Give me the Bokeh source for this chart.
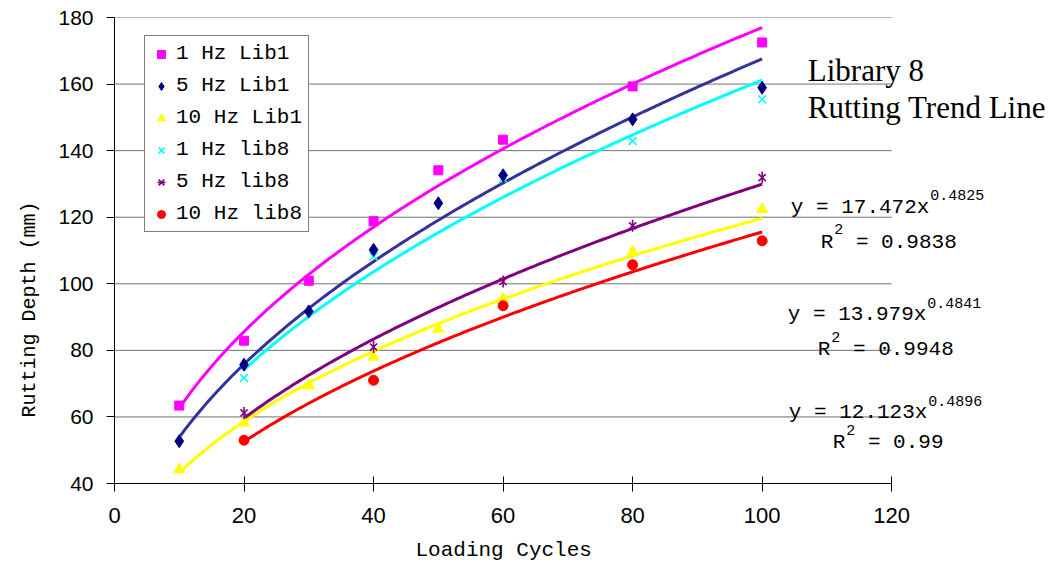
import numpy as np
from bokeh.plotting import figure
from bokeh.models import Range1d, Label, Legend, LegendItem, FixedTicker, Title
from bokeh.embed import file_html
from bokeh.resources import INLINE

# ---------------- data ----------------
x_lib1 = [10, 20, 30, 40, 50, 60, 80, 100]
x_lib8 = [20, 40, 60, 80, 100]
hz1_lib1 = [63.4, 82.9, 100.9, 118.8, 134.1, 143.3, 159.3, 172.5]
hz5_lib1 = [52.7, 75.7, 91.7, 110.2, 124.2, 132.6, 149.4, 158.9]
hz10_lib1 = [44.2, 58.2, 69.4, 78.0, 86.4, 95.5, 109.7, 122.4]
hz1_lib8 = [71.7, 108.2, 131.6, 142.9, 155.4]
hz5_lib8 = [61.2, 81.0, 100.7, 117.4, 131.9]
hz10_lib8 = [53.0, 71.0, 93.4, 105.7, 112.9]

lib8_coef = [17.472, 13.979, 12.123]
lib8_exp = [0.4825, 0.4841, 0.4896]
lib8_r2 = ["0.9838", "0.9948", "0.99"]

x_ticks = [0, 20, 40, 60, 80, 100, 120]
y_ticks = [40, 60, 80, 100, 120, 140, 160, 180]

# ---------------- figure ----------------
FL, AX_R, FT, FB = 113, 891, 17, 484
W, H = 1064, 573
XS = (AX_R - FL) / 120.0          # px per x unit on the axis
YS = (FB - FT) / 140.0
x_end = (W - FL) / XS              # frame extends to the right edge (room for notes)

p = figure(width=W, height=H, x_range=Range1d(0, x_end), y_range=Range1d(40, 180),
           output_backend="svg", toolbar_location=None,
           min_border_left=FL, min_border_right=0, min_border_top=FT,
           min_border_bottom=H - FB)
p.outline_line_color = None
p.background_fill_color = "white"
p.border_fill_color = "white"
p.xgrid.visible = False
p.ygrid.visible = False

p.xaxis.ticker = FixedTicker(ticks=x_ticks)
p.yaxis.ticker = FixedTicker(ticks=y_ticks)
p.xaxis.bounds = (x_ticks[0], x_ticks[-1])
for ax in (p.xaxis, p.yaxis):
    ax.axis_line_color = "black"
    ax.major_tick_line_color = "black"
    ax.minor_tick_line_color = None
    ax.major_label_text_color = "black"
p.yaxis.major_tick_in = 0
p.yaxis.major_tick_out = 8
p.yaxis.major_label_standoff = 13
p.yaxis.major_label_text_font = "Liberation Sans"
p.yaxis.major_label_text_font_size = "21px"
p.xaxis.major_tick_in = 7
p.xaxis.major_tick_out = 8
p.xaxis.major_label_standoff = 16
p.xaxis.major_label_text_font = "Liberation Sans"
p.xaxis.major_label_text_font_size = "22px"

# axis titles (side titles, shifted along the axis like the original)
p.add_layout(Title(text="Loading Cycles", align="left", offset=414 - FL,
                   standoff=23, text_font="Liberation Mono", text_font_size="21px",
                   text_font_style="normal", text_color="black"), "below")
p.add_layout(Title(text="Rutting Depth (mm)", align="left", offset=FB - 418,
                   standoff=30, text_font="Liberation Mono", text_font_size="20px",
                   text_font_style="normal", text_color="black"), "left")

# horizontal grid lines limited to the axis extent
p.segment(x0=x_ticks[0], x1=x_ticks[-1], y0=y_ticks[1:], y1=y_ticks[1:],
          line_color="#707070", line_width=1)


def fit(xs, ys):
    b, lna = np.polyfit(np.log(xs), np.log(ys), 1)
    return np.exp(lna), b


def curve(a, b, x0, x1=100):
    xx = np.linspace(x0, x1, 200)
    return xx, a * xx ** b


# trend lines
for ys, col in [(hz1_lib1, "#FF00FF"), (hz5_lib1, "#333399"), (hz10_lib1, "#FFFF00")]:
    a, b = fit(x_lib1, ys)
    xx, yy = curve(a, b, x_lib1[0])
    p.line(xx, yy, line_color=col, line_width=3)
for a, b, col in zip(lib8_coef, lib8_exp, ["#00FFFF", "#800080", "#FF0000"]):
    xx, yy = curve(a, b, x_lib8[0])
    p.line(xx, yy, line_color=col, line_width=3)

# markers
r_m1 = p.scatter(x_lib1, hz1_lib1, marker="square", size=9, color="#FF00FF")
r_c1 = p.scatter(x_lib8, hz1_lib8, marker="x", size=11, line_color="#00FFFF", line_width=1.6)
r_m5 = p.scatter(x_lib1, hz5_lib1, marker="diamond", size=13, color="#000080")
r_m10 = p.scatter(x_lib1, hz10_lib1, marker="triangle", size=11, color="#FFFF00")
r_p5a = p.scatter(x_lib8, hz5_lib8, marker="x", size=10, line_color="#800080", line_width=1.6)
r_p5b = p.scatter(x_lib8, hz5_lib8, marker="dash", angle=np.pi / 2, size=12,
                  line_color="#800080", line_width=1.6)
r_r10 = p.scatter(x_lib8, hz10_lib8, marker="circle", size=10, color="#FF0000")

legend = Legend(items=[
    LegendItem(label="1 Hz Lib1", renderers=[r_m1]),
    LegendItem(label="5 Hz Lib1", renderers=[r_m5]),
    LegendItem(label="10 Hz Lib1", renderers=[r_m10]),
    LegendItem(label="1 Hz lib8", renderers=[r_c1]),
    LegendItem(label="5 Hz lib8", renderers=[r_p5a, r_p5b]),
    LegendItem(label="10 Hz lib8", renderers=[r_r10]),
], location=(143 - FL, FB - 233))
legend.margin = 0
legend.padding = 6
legend.spacing = 9
legend.label_height = 20
legend.glyph_height = 20
legend.glyph_width = 20
legend.label_standoff = 5
legend.label_text_font = "Liberation Mono"
legend.label_text_font_size = "21px"
legend.label_text_color = "black"
legend.border_line_color = "black"
legend.border_line_width = 1
legend.background_fill_color = "white"
legend.background_fill_alpha = 1
p.add_layout(legend)

# ---------------- texts ----------------


def dx(px):
    return (px - FL) / XS


def dy(py):
    return 40 + (FB - py) / YS


def lab(text, px, py, font, size, align="left", baseline="alphabetic"):
    p.add_layout(Label(x=dx(px), y=dy(py), text=text, text_font=font,
                       text_font_size=size, text_align=align, text_baseline=baseline,
                       text_color="black"))


MONO = "Liberation Mono"
lab("Library 8", 807, 70, "Liberation Serif", "31px")
lab("Rutting Trend Line", 807, 107, "Liberation Serif", "31px")

CW = 0.6 * 21
eq_pos = [(790, 207, 820, 242), (787, 315, 817, 350), (788, 413, 832, 443)]
for (x0, base, rx, rbase), a, b, r2 in zip(eq_pos, lib8_coef, lib8_exp, lib8_r2):
    main = "y = %.3fx" % a
    lab(main, x0, base, MONO, "21px")
    lab("%.4f" % b, x0 + len(main) * CW + 1, base - 12, MONO, "15px")
    lab("R", rx, rbase, MONO, "21px")
    lab("2", rx + CW + 1, rbase - 13, MONO, "15px")
    lab("= " + r2, rx + 2 * CW + 10, rbase, MONO, "21px")

open("out.html", "w").write(file_html(p, INLINE))
